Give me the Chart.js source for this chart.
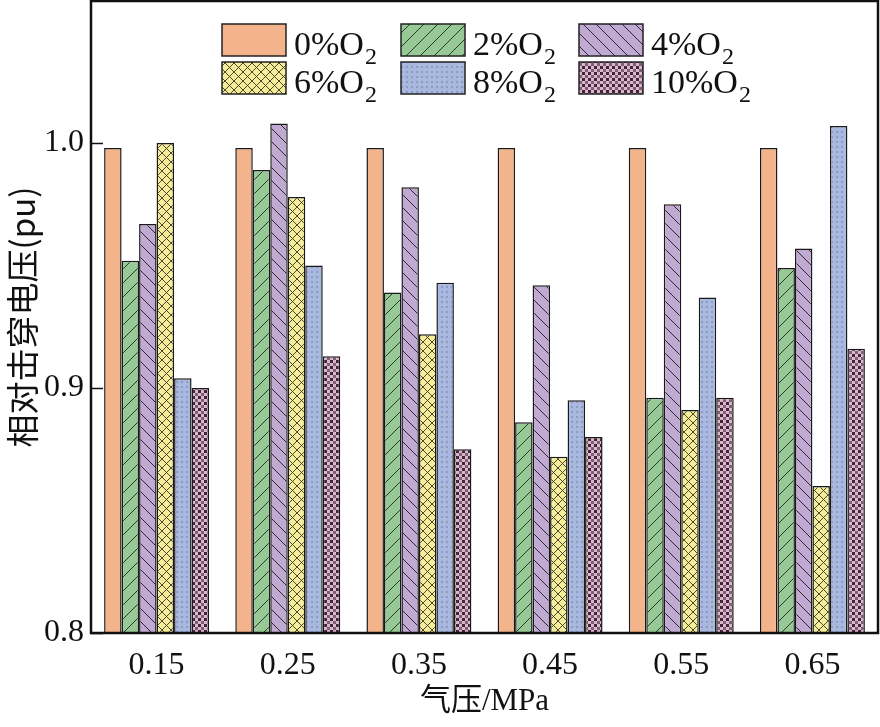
<!DOCTYPE html>
<html>
<head>
<meta charset="utf-8">
<script src="https://cdn.jsdelivr.net/npm/chart.js@4.4.1/dist/chart.umd.min.js"></script>
<style>
  html, body { margin: 0; padding: 0; background: #fff; }
  #wrap { width: 880px; height: 727px; }
</style>
</head>
<body>
<div id="wrap"><canvas id="c" width="880" height="727"></canvas></div>
<script>
// ---- data ----
const categories = ['0.15', '0.25', '0.35', '0.45', '0.55', '0.65'];
const seriesNames = ['0%O', '2%O', '4%O', '6%O', '8%O', '10%O'];
const o2_0  = [0.998, 0.998, 0.998, 0.998, 0.998, 0.998];
const o2_2  = [0.952, 0.989, 0.939, 0.886, 0.896, 0.949];
const o2_4  = [0.967, 1.008, 0.982, 0.942, 0.975, 0.957];
const o2_6  = [1.000, 0.978, 0.922, 0.872, 0.891, 0.860];
const o2_8  = [0.904, 0.950, 0.943, 0.895, 0.937, 1.007];
const o2_10 = [0.900, 0.913, 0.875, 0.880, 0.896, 0.916];
const yTicks = [0.8, 0.9, 1.0];

// ---- patterns ----
function makePattern(kind) {
  const c = document.createElement('canvas');
  const g = c.getContext('2d');
  if (kind === 'orange') {
    c.width = c.height = 4; g.fillStyle = '#F4B48B'; g.fillRect(0, 0, 4, 4);
  } else if (kind === 'green') {
    const s = 14; c.width = c.height = s;
    g.fillStyle = '#97C997'; g.fillRect(0, 0, s, s);
    g.strokeStyle = '#2a3a2a'; g.lineWidth = 1;
    g.beginPath();
    g.moveTo(-1, s + 1); g.lineTo(s + 1, -1);
    g.moveTo(-1, 1); g.lineTo(1, -1);
    g.moveTo(s - 1, s + 1); g.lineTo(s + 1, s - 1);
    g.stroke();
  } else if (kind === 'purple') {
    const s = 13; c.width = c.height = s;
    g.fillStyle = '#C1AAD2'; g.fillRect(0, 0, s, s);
    g.strokeStyle = '#2e2638'; g.lineWidth = 1;
    g.beginPath();
    g.moveTo(-1, -1); g.lineTo(s + 1, s + 1);
    g.moveTo(s - 1, -1); g.lineTo(s + 1, 1);
    g.moveTo(-1, s - 1); g.lineTo(1, s + 1);
    g.stroke();
  } else if (kind === 'yellow') {
    const s = 9; c.width = c.height = s;
    g.fillStyle = '#F5ED9A'; g.fillRect(0, 0, s, s);
    g.strokeStyle = '#3a3620'; g.lineWidth = 0.9;
    g.beginPath();
    g.moveTo(-1, -1); g.lineTo(s + 1, s + 1);
    g.moveTo(-1, s + 1); g.lineTo(s + 1, -1);
    g.stroke();
  } else if (kind === 'blue') {
    const s = 5; c.width = c.height = s;
    g.fillStyle = '#A8B8DE'; g.fillRect(0, 0, s, s);
    g.fillStyle = '#8D9BC0'; g.fillRect(1, 1, 2, 2);
  } else if (kind === 'maroon') {
    const s = 6; c.width = c.height = s;
    g.fillStyle = '#DDB5CC'; g.fillRect(0, 0, s, s);
    g.fillStyle = '#3E2638'; g.fillRect(0, 0, 3, 3);
    g.fillStyle = '#7E6076'; g.fillRect(3, 3, 3, 3);
  }
  return g.createPattern(c, 'repeat');
}
const kinds = ['orange', 'green', 'purple', 'yellow', 'blue', 'maroon'];
const patterns = kinds.map(makePattern);
const seriesData = [o2_0, o2_2, o2_4, o2_6, o2_8, o2_10];

const SERIF = '"Liberation Serif", "Times New Roman", serif';
const CJK = '"Noto Sans CJK SC", "Noto Sans", sans-serif';

// ---- plugins ----
const framePlugin = {
  id: 'frame',
  afterDraw(chart) {
    const { ctx, chartArea: a, scales } = chart;
    ctx.save();
    ctx.strokeStyle = '#111';
    ctx.lineWidth = 2.5;
    ctx.strokeRect(a.left, a.top, a.right - a.left, a.bottom - a.top);
    ctx.lineWidth = 1.5;
    yTicks.forEach(v => {
      const y = Math.round(scales.y.getPixelForValue(v)) + 0.5;
      ctx.beginPath(); ctx.moveTo(a.left, y); ctx.lineTo(a.left + 12, y); ctx.stroke();
    });
    ctx.restore();
  }
};

const legendPlugin = {
  id: 'customLegend',
  afterDraw(chart) {
    const ctx = chart.ctx;
    const colX = [222, 401, 579];
    const rowY = [24, 62];
    const bw = 64, bh = 32;
    ctx.save();
    seriesNames.forEach((name, i) => {
      const x = colX[i % 3], y = rowY[Math.floor(i / 3)];
      ctx.fillStyle = patterns[i];
      ctx.fillRect(x, y, bw, bh);
      ctx.strokeStyle = '#222'; ctx.lineWidth = 1.5;
      ctx.strokeRect(x, y, bw, bh);
      ctx.fillStyle = '#111';
      ctx.textBaseline = 'alphabetic';
      ctx.textAlign = 'left';
      ctx.font = '34px ' + SERIF;
      const tx = x + bw + 8, ty = y + bh - 1;
      ctx.fillText(name, tx, ty);
      const w = ctx.measureText(name).width;
      ctx.font = '24px ' + SERIF;
      ctx.fillText('2', tx + w + 1, ty + 9);
    });
    ctx.restore();
  }
};

const datasets = seriesData.map((d, i) => ({
  label: seriesNames[i] + '2',
  data: d,
  backgroundColor: patterns[i],
  borderColor: '#1a1a1a',
  borderWidth: 1.5,
  borderSkipped: 'bottom',
  categoryPercentage: 0.8,
  barPercentage: 1.0
}));

new Chart(document.getElementById('c'), {
  type: 'bar',
  data: { labels: categories, datasets },
  options: {
    responsive: false,
    animation: false,
    devicePixelRatio: 1,
    layout: { padding: { top: 1, right: 2, left: 0, bottom: 0 } },
    plugins: { legend: { display: false }, tooltip: { enabled: false } },
    scales: {
      x: {
        grid: { display: false, drawTicks: false },
        border: { display: false },
        ticks: { color: '#111', font: { family: SERIF, size: 32 }, padding: 13, maxRotation: 0 },
        title: { display: true, text: '气压/MPa', color: '#111',
                 font: { family: SERIF + ', ' + CJK, size: 31 }, padding: { top: 0, bottom: 7 } },
        afterFit(s) { s.height = 94; s.paddingLeft = 0; s.paddingRight = 0; }
      },
      y: {
        min: 0.8, max: 1.058,
        grid: { display: false, drawTicks: false },
        border: { display: false },
        ticks: { stepSize: 0.1, includeBounds: false, color: '#111',
                 font: { family: SERIF, size: 32 }, padding: 7,
                 callback: v => v.toFixed(1) },
        title: { display: true, text: '相对击穿电压(pu)', color: '#111',
                 font: { family: CJK, size: 33 }, padding: { top: 3, bottom: 0 } },
        afterFit(s) { s.width = 91; s.paddingTop = 0; s.paddingBottom = 0; }
      }
    }
  },
  plugins: [framePlugin, legendPlugin]
});
</script>
</body>
</html>
